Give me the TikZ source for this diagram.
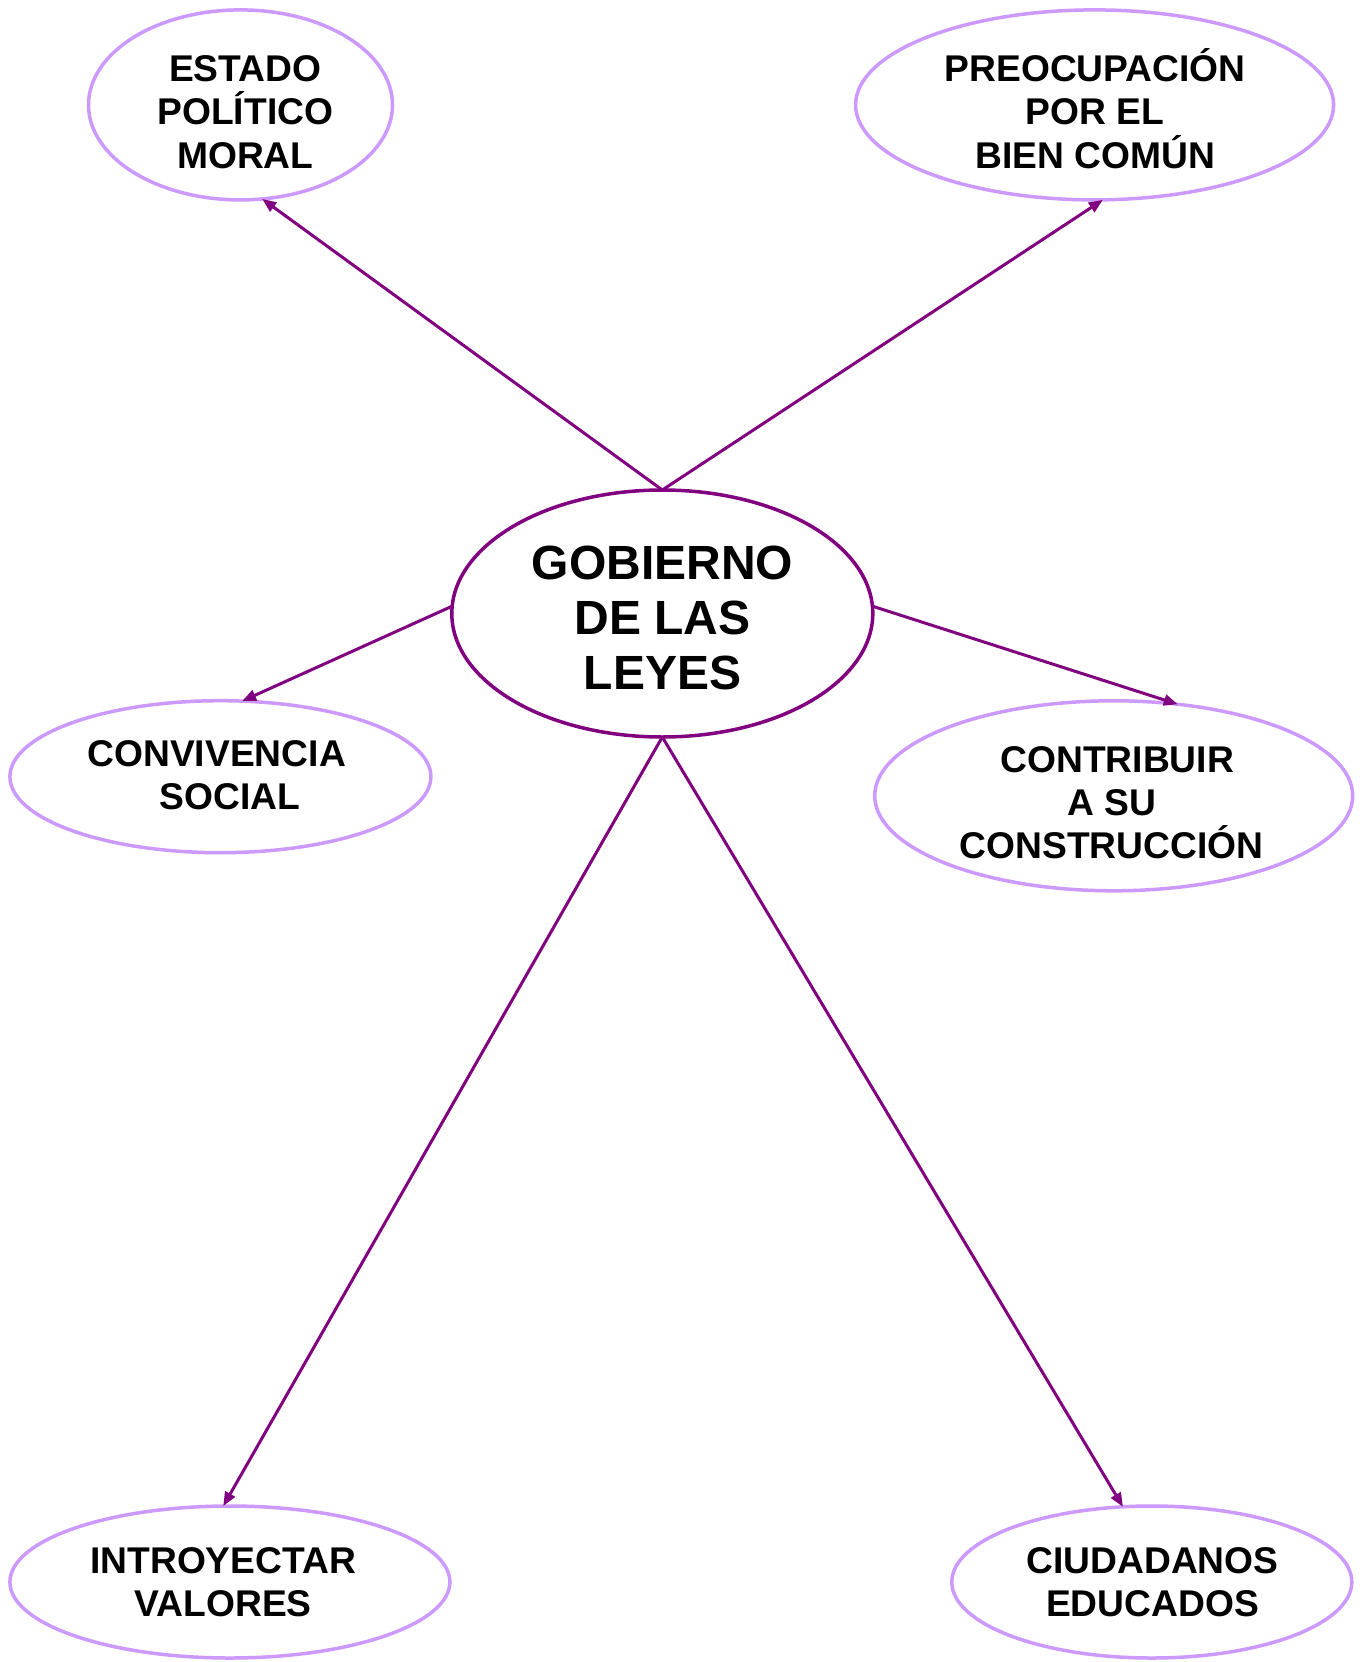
\documentclass[tikz,border=0pt]{standalone}
\usepackage{fontspec}
\setmainfont{Liberation Sans}
\usetikzlibrary{arrows.meta,shapes.geometric}
\definecolor{lav}{HTML}{CC99FF}
\definecolor{purp}{HTML}{800080}
\begin{document}
\begin{tikzpicture}[x=1pt,y=-1pt,
  bub/.style={ellipse, draw=lav, line width=3.5pt, inner sep=0pt, outer sep=0pt},
  hub/.style={ellipse, draw=purp, line width=3.5pt, inner sep=0pt, outer sep=0pt},
  lbl/.style={align=center, font=\fontsize{37.2}{43.4}\selectfont\bfseries, inner sep=0pt},
  hublbl/.style={align=center, font=\fontsize{48}{55.1}\selectfont\bfseries, inner sep=0pt},
  link/.style={draw=purp, line width=3pt, -{Triangle[length=14pt,width=11pt]}}]
\useasboundingbox (0,0) rectangle (1369,1662);
% ellipses
\node[bub, minimum width=304pt, minimum height=190pt] (estado) at (240.5,104.9) {};
\node[bub, minimum width=478pt, minimum height=190pt] (preoc) at (1094.6,104.9) {};
\node[hub, minimum width=421pt, minimum height=247pt] (gob) at (662.3,613.5) {};
\node[bub, minimum width=421pt, minimum height=152pt] (conv) at (220.4,776.7) {};
\node[bub, minimum width=478pt, minimum height=190pt] (contrib) at (1113.7,795.8) {};
\node[bub, minimum width=440pt, minimum height=152pt] (intro) at (229.9,1582) {};
\node[bub, minimum width=400pt, minimum height=152pt] (ciud) at (1151.8,1582) {};
% labels
\node[lbl] (estadot) at (245.3,108.3) {\vphantom{Ó}ESTADO\\POLÍTICO\\MORAL};
\node[lbl] (preoct) at (1095.1,108.3) {\vphantom{Ó}PREOCUPACIÓN\\POR EL\\BIEN COMÚN};
\node[hublbl] (gobt) at (662.6,613.2) {\vphantom{Ó}GOBIERNO\\DE LAS\\LEYES};
\node[lbl] (convt) at (216.7,771.6) {\vphantom{Ó}CONVIVENCIA\\\hspace*{26.4pt}SOCIAL};
\node[lbl] (contribt) at (1111.5,799.2) {\vphantom{Ó}\hspace*{11.6pt}CONTRIBUIR\\A SU\hspace*{8.4pt}\\CONSTRUCCIÓN};
\node[lbl] (introt) at (223.2,1578.8) {\vphantom{Ó}INTROYECTAR\\VALORES};
\node[lbl] (ciudt) at (1152.5,1578.8) {\vphantom{Ó}CIUDADANOS\\EDUCADOS};
% connectors
\draw[link] (gob.north) -- (estado.-77.6);
\draw[link] (gob.north) -- (preoc.-85);
\draw[link] (gob.178) -- (conv.74);
\draw[link] (gob.2) -- (contrib.55.2);
\draw[link] (gob.south) -- (intro.95.5);
\draw[link] (gob.south) -- (ciud.111.6);
\end{tikzpicture}
\end{document}
